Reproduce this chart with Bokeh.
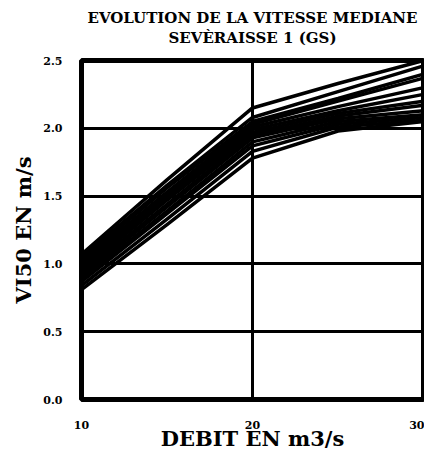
from bokeh.plotting import figure
from bokeh.models import Title, FixedTicker, Range1d
from bokeh.embed import file_html
from bokeh.resources import INLINE

# Data: debit (m3/s) vs median velocity V50 (m/s) for several simulations
debit = [10, 15, 20, 25, 30]
series = [
    [1.07, 1.62, 2.15, 2.33, 2.50],
    [1.05, 1.58, 2.08, 2.27, 2.46],
    [1.03, 1.56, 2.05, 2.22, 2.40],
    [1.01, 1.53, 2.03, 2.20, 2.37],
    [0.99, 1.51, 2.01, 2.16, 2.30],
    [0.97, 1.49, 1.99, 2.13, 2.25],
    [0.95, 1.47, 1.97, 2.11, 2.20],
    [0.93, 1.44, 1.95, 2.09, 2.17],
    [0.91, 1.42, 1.93, 2.07, 2.13],
    [0.89, 1.39, 1.90, 2.05, 2.10],
    [0.87, 1.37, 1.87, 2.03, 2.08],
    [0.84, 1.33, 1.83, 2.01, 2.06],
    [0.81, 1.29, 1.78, 1.98, 2.05],
]
x_ticks = [10, 20, 30]
y_ticks = [0.0, 0.5, 1.0, 1.5, 2.0, 2.5]
y_tick_labels = ["0.0", "0.5", "1.0", "1.5", "2.0", "2.5"]
title_lines = ["EVOLUTION DE LA VITESSE MEDIANE", "SEVÈRAISSE 1 (GS)"]

FONT = "DejaVu Serif"

p = figure(width=424, height=453, output_backend="svg", toolbar_location=None,
           x_range=Range1d(10, 30), y_range=Range1d(0, 2.5),
           min_border_left=0, min_border_right=1, min_border_top=0, min_border_bottom=0)

p.title = None
# spacer between the frame and the two title lines
gap = Title(text=" ", text_font=FONT, text_font_size="3px", standoff=8)
t2 = Title(text=title_lines[1], align="center", text_font=FONT,
           text_font_size="15px", text_font_style="bold", text_color="black",
           standoff=0)
t1 = Title(text=title_lines[0], align="center", text_font=FONT,
           text_font_size="15px", text_font_style="bold", text_color="black",
           standoff=0)
top_pad = Title(text=" ", text_font=FONT, text_font_size="3px", standoff=0)
p.add_layout(gap, "above")
p.add_layout(t2, "above")
p.add_layout(t1, "above")
p.add_layout(top_pad, "above")

for ys in series:
    p.line(debit, ys, line_color="black", line_width=3.5)

p.xaxis.ticker = FixedTicker(ticks=x_ticks)
p.yaxis.ticker = FixedTicker(ticks=y_ticks)
p.yaxis.major_label_overrides = {v: s for v, s in zip(y_ticks, y_tick_labels)}

for ax in (p.xaxis[0], p.yaxis[0]):
    ax.axis_line_color = None
    ax.major_tick_line_color = None
    ax.minor_tick_line_color = None
    ax.major_tick_out = 0
    ax.major_tick_in = 0
    ax.minor_tick_out = 0
    ax.minor_tick_in = 0
    ax.major_label_text_font = FONT
    ax.major_label_text_font_style = "bold"
    ax.major_label_text_font_size = "11px"
    ax.major_label_text_color = "black"
    ax.axis_label_text_font = FONT
    ax.axis_label_text_font_style = "bold"
    ax.axis_label_text_font_size = "21px"
    ax.axis_label_text_color = "black"

p.xaxis.axis_label = "DEBIT EN m3/s"
p.yaxis.axis_label = "VI50 EN m/s"
p.xaxis.major_label_standoff = 21
p.yaxis.major_label_standoff = 19
p.xaxis.axis_label_standoff = -6
p.yaxis.axis_label_standoff = 4

# empty spacer on the far left so the frame starts where the original does
pad = Title(text=" ", text_font=FONT, text_font_size="5px", standoff=0)
p.add_layout(pad, "left")

p.xgrid.ticker = FixedTicker(ticks=x_ticks)
p.ygrid.ticker = FixedTicker(ticks=y_ticks)
for g in (p.xgrid[0], p.ygrid[0]):
    g.grid_line_color = "black"
    g.grid_line_width = 3
    g.grid_line_alpha = 1.0

p.outline_line_color = "black"
p.outline_line_width = 5
p.background_fill_color = "white"
p.border_fill_color = "white"

open("out.html", "w").write(file_html(p, INLINE))
